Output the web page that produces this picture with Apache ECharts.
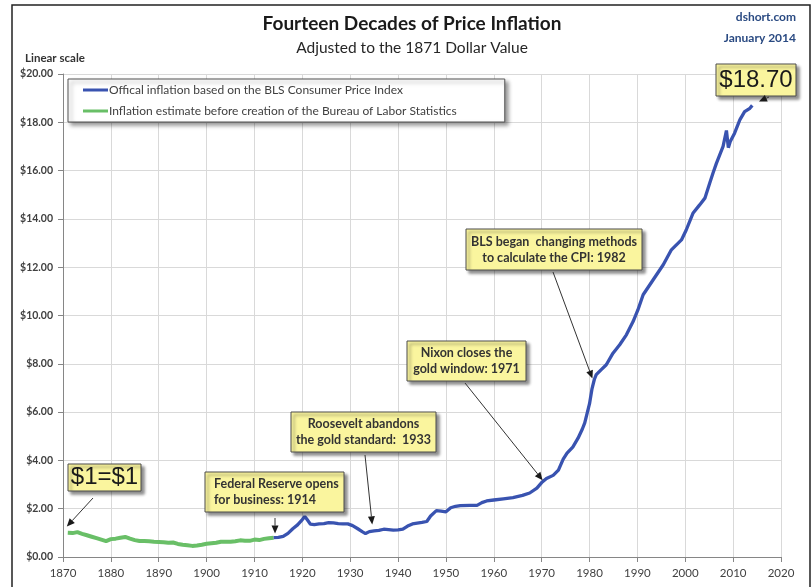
<!DOCTYPE html>
<html>
<head>
<meta charset="utf-8">
<script src="https://cdn.jsdelivr.net/npm/echarts@6/dist/echarts.min.js"></script>
<style>
  html, body { margin: 0; padding: 0; background: #fff; }
  #main { width: 812px; height: 587px; }
</style>
</head>
<body>
<div id="main"></div>
<script>
// estimate before the BLS existed (green)
var greenYears = [1871, 1872, 1873, 1874, 1875, 1876, 1877, 1878, 1879, 1880,
  1881, 1882, 1883, 1884, 1885, 1886, 1887, 1888, 1889, 1890,
  1891, 1892, 1893, 1894, 1895, 1896, 1897, 1898, 1899, 1900,
  1901, 1902, 1903, 1904, 1905, 1906, 1907, 1908, 1909, 1910,
  1911, 1912, 1913, 1914];
var greenValues = [1.00, 0.99, 1.03, 0.96, 0.90, 0.84, 0.78, 0.72, 0.66, 0.74,
  0.76, 0.80, 0.83, 0.76, 0.70, 0.66, 0.66, 0.65, 0.63, 0.62,
  0.61, 0.59, 0.60, 0.54, 0.51, 0.49, 0.46, 0.48, 0.51, 0.55,
  0.57, 0.59, 0.63, 0.63, 0.63, 0.65, 0.69, 0.67, 0.67, 0.72,
  0.70, 0.75, 0.78, 0.80];

// official CPI based series (blue)
var blueYears = [1914, 1915, 1916, 1917, 1918, 1919, 1920, 1920.5, 1921, 1921.7,
  1922.5, 1923.5, 1924.5, 1925.5, 1926.5, 1927.5, 1928.5, 1929.5, 1930.5, 1931.5,
  1932.5, 1933.2, 1934, 1935, 1936, 1937, 1938, 1939, 1940, 1941,
  1942, 1943, 1944, 1945, 1946, 1946.8, 1948, 1949, 1950, 1951,
  1952, 1953, 1955, 1956.5, 1957.5, 1958.5, 1960, 1962, 1964, 1966,
  1967.5, 1969, 1970, 1971, 1972.4, 1973.5, 1974.5, 1975.3, 1976.5, 1977.6,
  1978.5, 1979, 1980, 1980.5, 1981, 1981.4, 1982.4, 1983.5, 1984.9, 1986.3,
  1987.7, 1989.1, 1990.1, 1991.2, 1993.3, 1995.4, 1997.1, 1999.2, 2000.2, 2001.6,
  2003, 2004.1, 2005.1, 2005.8, 2006.5, 2007.9, 2008.6, 2009, 2009.4, 2010.3,
  2011.4, 2012.4, 2013.5, 2014];
var blueValues = [0.80, 0.81, 0.85, 0.98, 1.17, 1.33, 1.55, 1.68, 1.55, 1.36,
  1.34, 1.37, 1.38, 1.42, 1.41, 1.38, 1.37, 1.37, 1.30, 1.18,
  1.05, 0.97, 1.05, 1.08, 1.10, 1.15, 1.13, 1.11, 1.12, 1.15,
  1.28, 1.37, 1.40, 1.43, 1.47, 1.70, 1.92, 1.90, 1.87, 2.04,
  2.10, 2.13, 2.14, 2.14, 2.25, 2.32, 2.36, 2.41, 2.46, 2.55,
  2.65, 2.85, 3.08, 3.25, 3.38, 3.60, 4.05, 4.30, 4.55, 4.92,
  5.30, 5.55, 6.35, 6.95, 7.35, 7.55, 7.75, 7.96, 8.44, 8.79,
  9.20, 9.75, 10.23, 10.86, 11.48, 12.10, 12.72, 13.13, 13.54, 14.23,
  14.58, 14.86, 15.48, 15.90, 16.30, 17.00, 17.66, 16.95, 17.20, 17.55,
  18.10, 18.44, 18.58, 18.70];

var seriesNames = ['Offical inflation based on the BLS Consumer Price Index',
  'Inflation estimate before creation of the Bureau of Labor Statistics'];

// callouts: text + the point the arrow points at [year, value]
var noteTexts = ['$1=$1', 'Federal Reserve opens\nfor business: 1914',
  'Roosevelt abandons\nthe gold standard:  1933', 'Nixon closes the\ngold window: 1971',
  'BLS began  changing methods\nto calculate the CPI: 1982', '$18.70'];
var noteTargets = [[1870.8, 1.26], [1914.3, 0.97], [1934.6, 1.35], [1970.2, 3.18], [1980.6, 7.39], [2015.4, 18.86]];

function pair(xs, ys) {
  return xs.map(function (x, i) { return [x, ys[i]]; });
}

var chart = echarts.init(document.getElementById('main'));

var FONT = 'Lato';
var option = {
  animation: false,
  backgroundColor: '#fff',
  grid: { left: 63, right: 31, top: 74, bottom: 30 },
  legend: {
    left: 68, top: 79,
    orient: 'vertical',
    icon: 'rect',
    itemWidth: 25, itemHeight: 3, itemGap: 9,
    padding: [5, 48, 5, 15],
    backgroundColor: '#fff',
    borderColor: '#555', borderWidth: 1,
    shadowBlur: 4, shadowColor: 'rgba(0,0,0,0.4)', shadowOffsetX: 3, shadowOffsetY: 3,
    textStyle: { fontFamily: FONT, fontSize: 12, color: '#404040', padding: [0, 0, 0, -4] },
    data: seriesNames
  },
  xAxis: {
    type: 'value', min: 1870, max: 2020, interval: 10,
    axisLine: { lineStyle: { color: '#868686' } },
    axisTick: { show: true, length: 5, lineStyle: { color: '#868686' } },
    splitLine: { show: true, lineStyle: { color: '#d9d9d9' } },
    axisLabel: { color: '#404040', fontFamily: FONT, fontSize: 11.5, margin: 10,
      formatter: function (v) { return String(v); } }
  },
  yAxis: {
    type: 'value', min: 0, max: 20, interval: 2,
    axisLine: { show: true, lineStyle: { color: '#868686' } },
    axisTick: { show: true, length: 5, lineStyle: { color: '#868686' } },
    splitLine: { show: true, lineStyle: { color: '#d9d9d9' } },
    axisLabel: {
      color: '#404040', fontFamily: FONT, fontSize: 10.5, fontWeight: 'bold', margin: 10,
      formatter: function (v) { return '$' + v.toFixed(2); }
    }
  },
  series: [
    {
      name: seriesNames[0], type: 'line', showSymbol: false, smooth: false,
      data: pair(blueYears, blueValues),
      itemStyle: { color: '#3953b0' },
      lineStyle: { color: '#3953b0', width: 3.3 },
      z: 3
    },
    {
      name: seriesNames[1], type: 'line', showSymbol: false,
      data: pair(greenYears, greenValues),
      itemStyle: { color: '#69bf67' },
      lineStyle: { color: '#69bf67', width: 4 },
      z: 2
    }
  ]
};
chart.setOption(option);

// boxes and arrows on top
function arrow(x1, y1, x2, y2) {
  var a = Math.atan2(y2 - y1, x2 - x1), len = 8, w = 3.5;
  var bx = x2 - len * Math.cos(a), by = y2 - len * Math.sin(a);
  var px = -Math.sin(a) * w, py = Math.cos(a) * w;
  return [
    { type: 'line', z: 50, shape: { x1: x1, y1: y1, x2: bx, y2: by }, style: { stroke: '#333', lineWidth: 1 } },
    { type: 'polygon', z: 50, shape: { points: [[x2, y2], [bx + px, by + py], [bx - px, by - py]] }, style: { fill: '#1a1a1a' } }
  ];
}

function box(x, y, w, h, text, opts) {
  var big = opts.big;
  var els = [{
    type: 'rect', z: 40,
    shape: { x: x, y: y, width: w, height: h },
    style: { fill: '#faf59e', stroke: '#4d4d4d', lineWidth: 1,
      shadowBlur: 3, shadowColor: 'rgba(0,0,0,0.45)', shadowOffsetX: 3, shadowOffsetY: 3 }
  }];
  els.push({
    type: 'text', z: 41,
    style: {
      text: text,
      x: opts.align === 'left' ? x + 9 : x + w / 2,
      y: y + h / 2,
      align: opts.align || 'center', verticalAlign: 'middle',
      fill: big ? '#1a1a1a' : '#333',
      font: big ? '24px "Liberation Sans", Arial, sans-serif' : 'bold 12.5px ' + FONT,
      lineHeight: 16
    }
  });
  return els;
}

// box layout in pixels + arrow tail positions
var boxLayout = [
  { x: 68, y: 464, w: 73, h: 27, big: true, tail: [93, 498] },
  { x: 205, y: 472, w: 139, h: 40, align: 'left', tail: [275, 518] },
  { x: 291, y: 412, w: 145, h: 40, tail: [365, 455] },
  { x: 407, y: 341, w: 119, h: 40, tail: [465, 383] },
  { x: 466, y: 229, w: 176, h: 41, tail: [553, 272] },
  { x: 716, y: 64, w: 80, h: 32, big: true, tail: [769, 97] }
];

var graphics = [
  { type: 'rect', z: 60, shape: { x: 12, y: 5, width: 798, height: 600 },
    style: { fill: 'none', stroke: '#222', lineWidth: 1.5 } },
  { type: 'text', z: 60, style: { text: 'Fourteen Decades of Price Inflation', x: 412, y: 24,
    align: 'center', verticalAlign: 'middle', font: 'bold 19px ' + FONT, fill: '#1a1a1a' } },
  { type: 'text', z: 60, style: { text: 'Adjusted to the 1871 Dollar Value', x: 412, y: 48,
    align: 'center', verticalAlign: 'middle', font: '15.5px ' + FONT, fill: '#262626' } },
  { type: 'text', z: 60, style: { text: 'dshort.com', x: 796, y: 17,
    align: 'right', verticalAlign: 'middle', font: 'bold 12px ' + FONT, fill: '#2a4a82' } },
  { type: 'text', z: 60, style: { text: 'January 2014', x: 796, y: 38,
    align: 'right', verticalAlign: 'middle', font: 'bold 12px ' + FONT, fill: '#2a4a82' } },
  { type: 'text', z: 60, style: { text: 'Linear scale', x: 25, y: 58,
    align: 'left', verticalAlign: 'middle', font: 'bold 11.5px ' + FONT, fill: '#333' } }
];

boxLayout.forEach(function (b, i) {
  graphics = graphics.concat(box(b.x, b.y, b.w, b.h, noteTexts[i], b));
  var tip = chart.convertToPixel({ xAxisIndex: 0, yAxisIndex: 0 }, noteTargets[i]);
  graphics = graphics.concat(arrow(b.tail[0], b.tail[1], tip[0], tip[1]));
});

chart.setOption({ graphic: graphics });
</script>
</body>
</html>
